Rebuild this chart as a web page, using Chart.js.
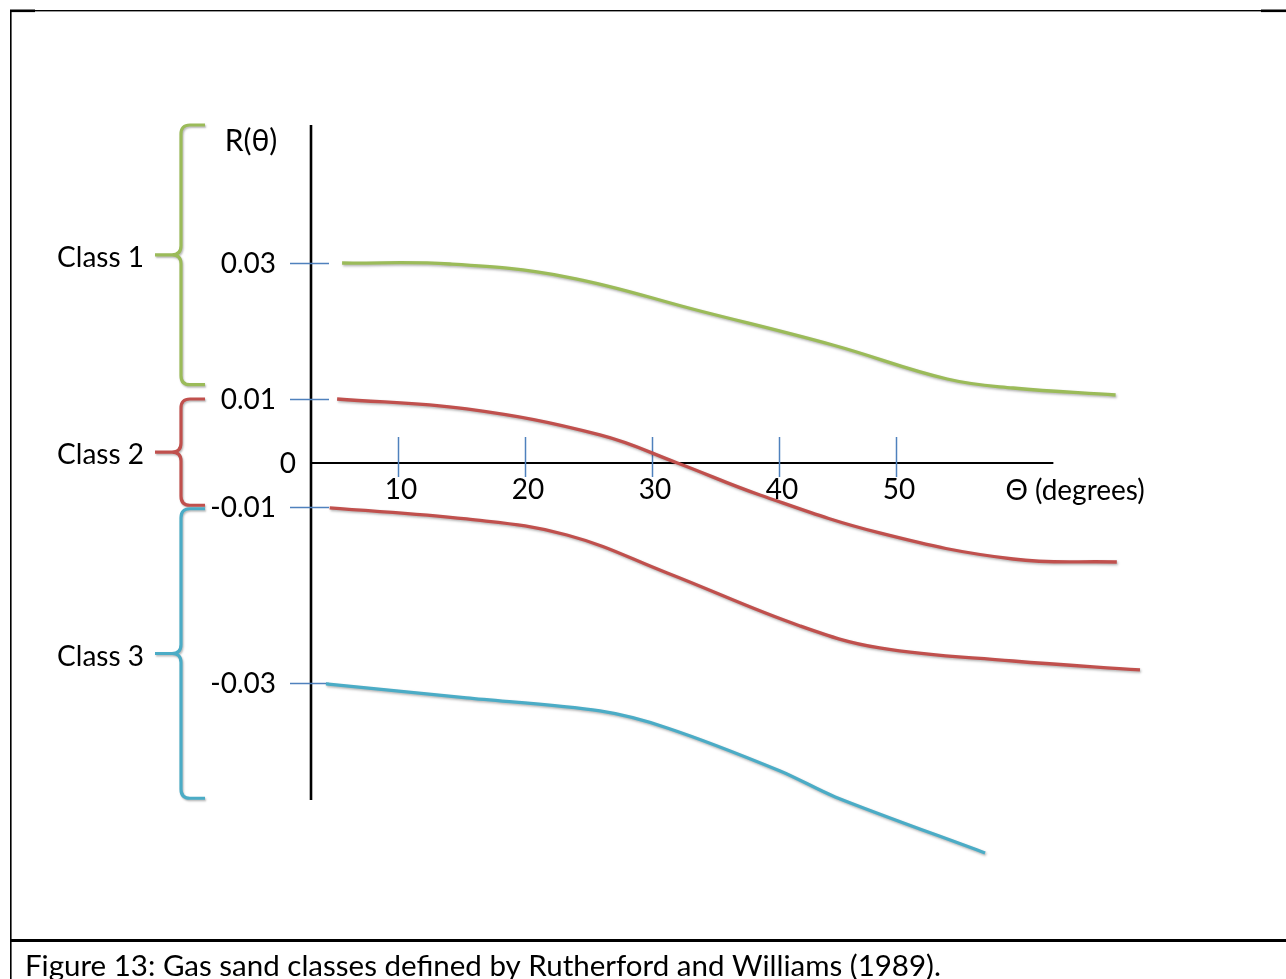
<!DOCTYPE html>
<html>
<head>
<meta charset="utf-8">
<script src="https://cdn.jsdelivr.net/npm/chart.js@4.4.1/dist/chart.umd.min.js"></script>
<style>
  html, body { margin: 0; padding: 0; background: #ffffff; }
  #wrap { position: relative; width: 1286px; height: 979px; overflow: hidden; }
  canvas { display: block; }
</style>
</head>
<body>
<div id="wrap"><canvas id="chart" width="1286" height="979"></canvas></div>
<script>
// ---------------- data ----------------
const angleTicks = [10, 20, 30, 40, 50];
const angleTickLabels = ['10', '20', '30', '40', '50'];
const rTicks = [0.03, 0.01, -0.01, -0.03];
const rTickLabels = ['0.03', '0.01', '-0.01', '-0.03'];
const originLabel = '0';
const yAxisTitle = 'R(\u03B8)';
const xAxisTitle = '\u0398 (degrees)';
const captionText = 'Figure 13: Gas sand classes defined by Rutherford and Williams (1989).';

const classNames = ['Class 1', 'Class 2', 'Class 3'];
const classTop = [0.05, 0.01, -0.0102];
const classBottom = [0.0121, -0.0096, -0.0431];
const classColors = ['#9bbb59', '#c0504d', '#4bacc6'];

const seriesNames = ['Class 1 (0.03)', 'Class 2 (0.01)', 'Class 2 (-0.01)', 'Class 3 (-0.03)'];
const seriesColors = ['#9bbb59', '#c0504d', '#c0504d', '#4bacc6'];

const class1Theta = [5.5, 14.1, 23.3, 33.8, 44.6, 54.2, 59.6, 68.0];
const class1R     = [0.0300, 0.02985, 0.02794, 0.02294, 0.01794, 0.01294, 0.01162, 0.01059];

const class2UpperTheta = [5.1, 15.4, 25.9, 32.0, 38.5, 48.6, 59.6, 68.1];
const class2UpperR     = [0.0100, 0.00844, 0.00438, 0.0000, -0.00727, -0.01295, -0.01591, -0.01625];

const class2LowerTheta = [4.5, 15.4, 23.3, 31.2, 41.8, 48.6, 59.6, 70.0];
const class2LowerR     = [-0.01011, -0.01136, -0.01318, -0.0175, -0.02352, -0.02602, -0.0275, -0.02852];

const class3Theta = [4.2, 15.4, 25.9, 31.2, 40.1, 44.8, 57.3];
const class3R     = [-0.03011, -0.0317, -0.03318, -0.03511, -0.0400, -0.04295, -0.04932];

// axis warp (the drawing's axes are not evenly spaced)
const rAxisStops = [-0.0433, -0.03, -0.01, 0, 0.01, 0.03, 0.05];
const rAxisSpans = [117, 176, 44, 64, 136, 138];
const angleAxisStops = [3, 10, 20, 30, 40, 50, 70];
const angleAxisSpans = [87, 127, 127, 127, 117, 244];
const angleAxisEnd = 62.9;

// ---------------- warp scale ----------------
const WARP = {
  x: { stops: angleAxisStops, spans: angleAxisSpans },
  y: { stops: rAxisStops, spans: rAxisSpans }
};
function segIndex(v, stops) {
  let i = 0;
  while (i < stops.length - 2 && v > stops[i + 1]) i++;
  return i;
}
function warpDecimal(v, w) {
  const total = w.spans.reduce((a, b) => a + b, 0);
  const i = segIndex(v, w.stops);
  let acc = 0;
  for (let k = 0; k < i; k++) acc += w.spans[k];
  const t = (v - w.stops[i]) / (w.stops[i + 1] - w.stops[i]);
  return (acc + t * w.spans[i]) / total;
}
function unwarpDecimal(d, w) {
  const total = w.spans.reduce((a, b) => a + b, 0);
  const p = d * total;
  let acc = 0, i = 0;
  while (i < w.spans.length - 1 && p > acc + w.spans[i]) { acc += w.spans[i]; i++; }
  const t = (p - acc) / w.spans[i];
  return w.stops[i] + t * (w.stops[i + 1] - w.stops[i]);
}
class WarpScale extends Chart.LinearScale {
  getPixelForValue(value) {
    return this.getPixelForDecimal(warpDecimal(value, WARP[this.axis]));
  }
  getValueForPixel(pixel) {
    return unwarpDecimal(this.getDecimalForPixel(pixel), WARP[this.axis]);
  }
}
WarpScale.id = 'warp';
WarpScale.defaults = Chart.LinearScale.defaults;
Chart.register(WarpScale);

// ---------------- helpers ----------------
const FONT_FAMILY = 'Lato, "Open Sans", "DejaVu Sans", sans-serif';
const LABEL_FONT = '28px ' + FONT_FAMILY;
const TICK_BLUE = '#4f81bd';

function zip(xs, ys) { return xs.map((x, i) => ({ x: x, y: ys[i] })); }

function drawBrace(ctx, top, bottom, spineX, endX, tipX, color) {
  const mid = (top + bottom) / 2;
  const r = 9;
  ctx.save();
  ctx.strokeStyle = color;
  ctx.lineWidth = 3.2;
  ctx.lineCap = 'butt';
  ctx.lineJoin = 'round';
  ctx.shadowColor = 'rgba(0,0,0,0.28)';
  ctx.shadowBlur = 2;
  ctx.shadowOffsetX = 1;
  ctx.shadowOffsetY = 1.5;
  ctx.beginPath();
  ctx.moveTo(endX, top);
  ctx.lineTo(spineX + r, top);
  ctx.quadraticCurveTo(spineX, top, spineX, top + r);
  ctx.lineTo(spineX, mid - r);
  ctx.quadraticCurveTo(spineX, mid, spineX - r, mid);
  ctx.lineTo(tipX, mid);
  ctx.moveTo(spineX - r, mid);
  ctx.quadraticCurveTo(spineX, mid, spineX, mid + r);
  ctx.lineTo(spineX, bottom - r);
  ctx.quadraticCurveTo(spineX, bottom, spineX + r, bottom);
  ctx.lineTo(endX, bottom);
  ctx.stroke();
  ctx.restore();
}

// background: frame, axes, ticks, labels, braces
const diagramPlugin = {
  id: 'diagram',
  beforeDatasetsDraw(chart) {
    const ctx = chart.ctx;
    const area = chart.chartArea;
    const xs = chart.scales.x;
    const ys = chart.scales.y;
    const W = chart.width, H = chart.height;

    ctx.save();
    // frame
    ctx.fillStyle = '#000';
    ctx.fillRect(10, 10, 1.6, H - 10);
    ctx.fillRect(10, 10, W - 10, 1.4);
    ctx.fillRect(10, 9.5, 25, 2.6);
    ctx.fillRect(W - 25, 9.5, 25, 2.6);
    ctx.fillRect(10, 939, W - 10, 3);

    // axes
    const y0 = ys.getPixelForValue(0);
    ctx.strokeStyle = '#000';
    ctx.lineWidth = 2.6;
    ctx.beginPath();
    ctx.moveTo(area.left, area.top);
    ctx.lineTo(area.left, area.bottom);
    ctx.stroke();
    ctx.lineWidth = 2.2;
    ctx.beginPath();
    ctx.moveTo(area.left, y0);
    ctx.lineTo(xs.getPixelForValue(angleAxisEnd), y0);
    ctx.stroke();

    // blue tick marks
    ctx.strokeStyle = TICK_BLUE;
    ctx.lineWidth = 1.5;
    rTicks.forEach(v => {
      const py = Math.round(ys.getPixelForValue(v)) + 0.5;
      ctx.beginPath();
      ctx.moveTo(area.left - 21, py);
      ctx.lineTo(area.left + 18, py);
      ctx.stroke();
    });
    angleTicks.forEach(v => {
      const px = Math.round(xs.getPixelForValue(v)) + 0.5;
      ctx.beginPath();
      ctx.moveTo(px, y0 - 26);
      ctx.lineTo(px, y0 + 14);
      ctx.stroke();
    });

    // labels
    ctx.fillStyle = '#000';
    ctx.font = LABEL_FONT;
    ctx.textBaseline = 'middle';
    ctx.textAlign = 'right';
    rTicks.forEach((v, i) => {
      ctx.fillText(rTickLabels[i], area.left - 35, ys.getPixelForValue(v) + 1);
    });
    ctx.fillText(originLabel, area.left - 15, y0 + 1);
    ctx.textAlign = 'center';
    angleTicks.forEach((v, i) => {
      ctx.fillText(angleTickLabels[i], xs.getPixelForValue(v) + 3, y0 + 27);
    });
    ctx.font = '30px ' + FONT_FAMILY;
    ctx.fillText(yAxisTitle, area.left - 60, area.top + 16);
    ctx.font = LABEL_FONT;
    ctx.textAlign = 'left';
    ctx.fillText(xAxisTitle, xs.getPixelForValue(angleAxisEnd) - 48, y0 + 28);

    // braces + class labels
    const spineX = area.left - 130, endX = area.left - 106, tipX = area.left - 156;
    classNames.forEach((name, i) => {
      const top = ys.getPixelForValue(classTop[i]);
      const bottom = ys.getPixelForValue(classBottom[i]);
      drawBrace(ctx, top, bottom, spineX, endX, tipX, classColors[i]);
      ctx.fillStyle = '#000';
      ctx.font = LABEL_FONT;
      ctx.textAlign = 'right';
      ctx.textBaseline = 'middle';
      ctx.fillText(name, tipX - 11, (top + bottom) / 2 + 3);
    });

    // caption
    ctx.textAlign = 'left';
    ctx.textBaseline = 'alphabetic';
    ctx.font = '29.5px ' + FONT_FAMILY;
    ctx.fillText(captionText, 25, 976);
    ctx.restore();

    // shadow for the curves
    ctx.save();
    ctx.shadowColor = 'rgba(0,0,0,0.30)';
    ctx.shadowBlur = 2.5;
    ctx.shadowOffsetX = 1;
    ctx.shadowOffsetY = 1.5;
  },
  afterDatasetsDraw(chart) {
    chart.ctx.restore();
  }
};

const seriesData = [
  zip(class1Theta, class1R),
  zip(class2UpperTheta, class2UpperR),
  zip(class2LowerTheta, class2LowerR),
  zip(class3Theta, class3R)
];
const seriesTension = [0.4, 0.4, 0.4, 0.3];

new Chart(document.getElementById('chart'), {
  type: 'line',
  data: {
    datasets: seriesData.map((d, i) => ({
      label: seriesNames[i],
      data: d,
      borderColor: seriesColors[i],
      backgroundColor: seriesColors[i],
      borderWidth: 3.3,
      pointRadius: 0,
      pointHoverRadius: 0,
      tension: seriesTension[i],
      borderCapStyle: 'butt',
      fill: false,
      clip: false
    }))
  },
  options: {
    responsive: false,
    animation: false,
    events: [],
    layout: { padding: { left: 311, top: 125, right: 146, bottom: 179 } },
    plugins: { legend: { display: false }, tooltip: { enabled: false }, title: { display: false } },
    scales: {
      x: { type: 'warp', display: false, min: angleAxisStops[0], max: angleAxisStops[angleAxisStops.length - 1] },
      y: { type: 'warp', display: false, min: rAxisStops[0], max: rAxisStops[rAxisStops.length - 1] }
    }
  },
  plugins: [diagramPlugin]
});
</script>
</body>
</html>
